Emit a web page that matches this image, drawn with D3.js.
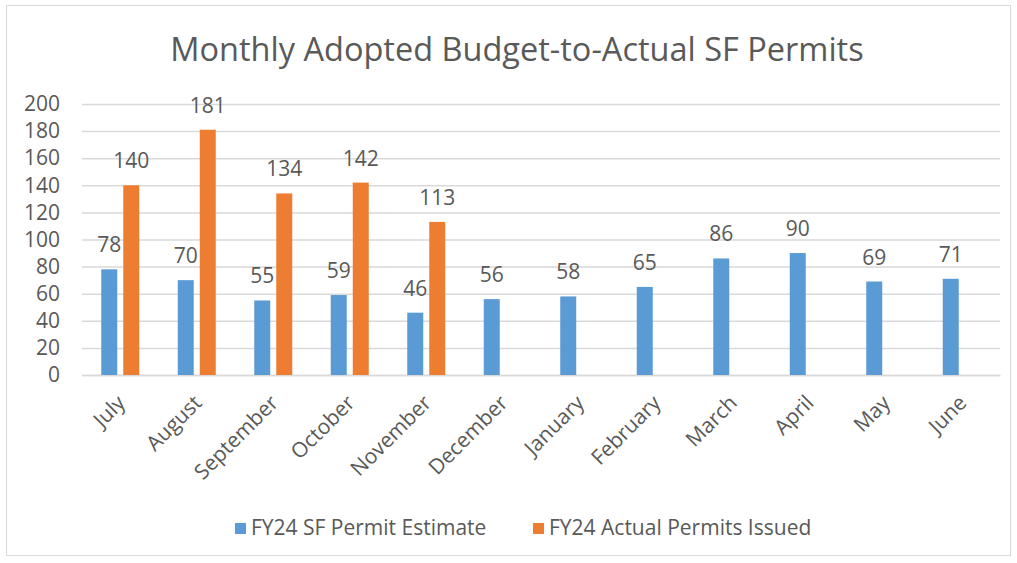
<!DOCTYPE html>
<html>
<head>
<meta charset="utf-8">
<script src="https://cdn.jsdelivr.net/npm/d3@7"></script>
<style>
  body { margin: 0; background: #fff; }
  text { font-family: "Open Sans", "Liberation Sans", sans-serif; fill: #595959; }
</style>
</head>
<body>
<svg class="chart"></svg>
<script>
// DATA /////////////////////////////////
const months = ["July", "August", "September", "October", "November", "December",
  "January", "February", "March", "April", "May", "June"];
const estimate = [78, 70, 55, 59, 46, 56, 58, 65, 86, 90, 69, 71];
const actual = [140, 181, 134, 142, 113, null, null, null, null, null, null, null];
const yTicks = [0, 20, 40, 60, 80, 100, 120, 140, 160, 180, 200];
const seriesNames = ["FY24 SF Permit Estimate", "FY24 Actual Permits Issued"];
const colors = ["#5B9BD5", "#ED7D31"];

// DEFINITIONS /////////////////////////////////
const W = 1017, H = 563;
const margin = { top: 104, bottom: 188, right: 17, left: 82 };
const width = W - margin.left - margin.right;
const height = H - margin.top - margin.bottom;
const fs = "21px";

const svg = d3.select(".chart").attr("width", W).attr("height", H);

svg.append("rect")
  .attr("x", 6.5).attr("y", 5.5)
  .attr("width", 1004).attr("height", 550)
  .attr("fill", "#fff").attr("stroke", "#d9d9d9");

svg.append("text")
  .attr("x", 517).attr("y", 61)
  .attr("text-anchor", "middle")
  .style("font-size", "32.5px")
  .text("Monthly Adopted Budget-to-Actual SF Permits");

const chartG = svg.append("g")
  .attr("transform", `translate(${margin.left}, ${margin.top})`);

const x = d3.scaleBand().domain(months).range([0, width]);
const y = d3.scaleLinear().domain([0, 200]).range([height, 0]);

// grid + y labels
const yAxis = d3.axisLeft(y).tickValues(yTicks).tickSize(-width).tickPadding(22);
const yG = chartG.append("g").call(yAxis);
yG.select(".domain").remove();
yG.selectAll(".tick line").attr("stroke", "#d9d9d9").attr("stroke-width", 1.5);
yG.selectAll(".tick text").style("font-size", fs).attr("fill", "#595959");

// x labels
const xG = chartG.append("g").attr("transform", `translate(0, ${height})`)
  .call(d3.axisBottom(x).tickSize(0).tickPadding(0));
xG.select(".domain").attr("stroke", "#d9d9d9").attr("stroke-width", 1.5);
xG.selectAll(".tick text")
  .style("font-size", fs)
  .attr("fill", "#595959")
  .attr("text-anchor", "end")
  .attr("dy", "0.35em")
  .attr("transform", "translate(1, 24) rotate(-45)");

// bars
const barW = 16, gap = 6;
const rows = months.map((m, i) => ({ m, vals: [estimate[i], actual[i]] }));
const groups = chartG.selectAll(".grp").data(rows).enter().append("g")
  .attr("transform", (d) => `translate(${x(d.m) + x.bandwidth() / 2}, 0)`);

[0, 1].forEach((s) => {
  const off = s === 0 ? -barW - gap / 2 : gap / 2;
  const sel = groups.filter((d) => d.vals[s] != null);
  sel.append("rect")
    .attr("x", off).attr("width", barW)
    .attr("y", (d) => y(d.vals[s]))
    .attr("height", (d) => height - y(d.vals[s]))
    .attr("fill", colors[s]);
  sel.append("text")
    .attr("x", off + barW / 2)
    .attr("y", (d) => y(d.vals[s]) - 17)
    .attr("text-anchor", "middle")
    .style("font-size", fs)
    .text((d) => d.vals[s]);
});

// legend
const legend = svg.append("g");
const legX = [235, 533];
seriesNames.forEach((n, i) => {
  legend.append("rect").attr("x", legX[i]).attr("y", 523).attr("width", 11).attr("height", 11)
    .attr("fill", colors[i]);
  legend.append("text").attr("x", legX[i] + 16).attr("y", 535)
    .style("font-size", "21px").text(n);
});
</script>
</body>
</html>
